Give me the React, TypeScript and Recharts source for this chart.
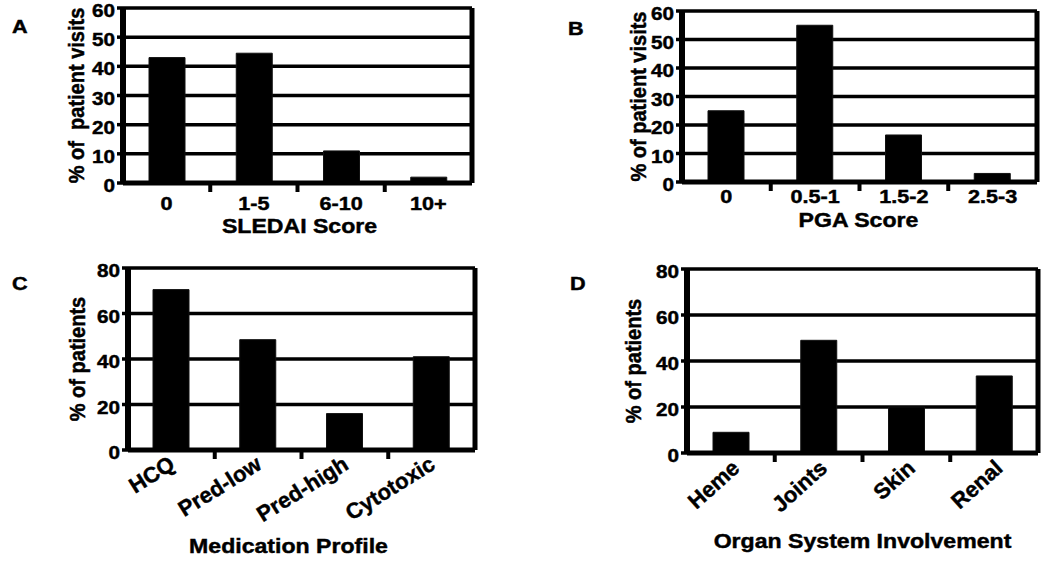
import { BarChart, Bar, XAxis, YAxis, CartesianGrid } from "recharts";

const FONT = '"Liberation Sans", Arial, Helvetica, sans-serif';

// Panel A - SLEDAI
const sledaiCategories = ["0", "1-5", "6-10", "10+"];
const sledaiValues = [43, 44.5, 11, 2];

// Panel B - PGA
const pgaCategories = ["0", "0.5-1", "1.5-2", "2.5-3"];
const pgaValues = [25, 55, 16.5, 3];

// Panel C - medications
const medicationCategories = ["HCQ", "Pred-low", "Pred-high", "Cytotoxic"];
const medicationValues = [70.5, 48.5, 16, 41];

// Panel D - organ systems
const organCategories = ["Heme", "Joints", "Skin", "Renal"];
const organValues = [9, 49, 20, 33.5];

const visitTicks = [0, 10, 20, 30, 40, 50, 60];
const patientTicks = [0, 20, 40, 60, 80];

// bold text, slightly widened like the scanned figure
const SText = ({ x, y, size, anchor, sx = 1, sy = 1, rotate = 0, dy, pre, children }: any) => (
  <text
    transform={`translate(${x} ${y}) rotate(${rotate}) scale(${sx} ${sy})`}
    x={0}
    y={0}
    dy={dy}
    textAnchor={anchor}
    fontSize={size}
    fontWeight={700}
    fontFamily={FONT}
    fill="#000"
    stroke="#000"
    strokeWidth={0.45}
    style={pre ? { whiteSpace: "pre" } : undefined}
  >
    {children}
  </text>
);

interface PanelProps {
  categories: string[];
  values: number[];
  ticks: number[];
  yLabel: string;
  xLabel: string;
  left: number;
  top: number;
  width: number;
  height: number;
  margin: { top: number; right: number; left: number; bottom: number };
  yAxisWidth: number;
  xAxisHeight: number;
  yLabelX: number;
  tickDx: number;
  tickDy: number;
  titleDx: number;
  titleDy: number;
  rotate: number;
  xTickFont: number;
}

const Panel = (p: PanelProps) => {
  const data = p.categories.map((name, i) => ({ name, value: p.values[i] }));
  const max = p.ticks[p.ticks.length - 1];
  const count = p.categories.length;

  const renderXTick = (props: any) => {
    const { x, y, payload, index } = props;
    const half = payload && payload.offset ? payload.offset : 44;
    return (
      <g>
        {index < count - 1 && (
          <line x1={x + half} x2={x + half} y1={y} y2={y + 9} stroke="#000" strokeWidth={4} />
        )}
        {p.rotate ? (
          <SText x={x + p.tickDx} y={y + p.tickDy} size={p.xTickFont} anchor="end" rotate={p.rotate}>
            {payload.value}
          </SText>
        ) : (
          <SText x={x} y={y + p.tickDy} size={p.xTickFont} anchor="middle" sx={1.2}>
            {payload.value}
          </SText>
        )}
      </g>
    );
  };

  const renderYTick = (props: any) => {
    const { x, y, payload } = props;
    return (
      <SText x={x} y={y} size={18} anchor="end" sx={1.15} dy="0.5em">
        {payload.value}
      </SText>
    );
  };

  const renderYLabel = (props: any) => {
    const vb = props.viewBox || {};
    const cx = (vb.x || 0) + p.yLabelX;
    const cy = (vb.y || 0) + (vb.height || 0) / 2;
    return (
      <SText x={cx} y={cy} size={20} anchor="middle" rotate={-90} sy={1.1} dy="0.35em" pre>
        {p.yLabel}
      </SText>
    );
  };

  const renderXLabel = (props: any) => {
    const vb = props.viewBox || {};
    const cx = (vb.x || 0) + (vb.width || 0) / 2 + p.titleDx;
    const cy = (vb.y || 0) + p.titleDy;
    return (
      <SText x={cx} y={cy} size={21} anchor="middle" sx={1.1}>
        {p.xLabel}
      </SText>
    );
  };

  return (
    <div style={{ position: "absolute", left: p.left, top: p.top, width: p.width, height: p.height }}>
      <BarChart width={p.width} height={p.height} data={data} margin={p.margin}>
        <CartesianGrid vertical={false} stroke="#000" strokeWidth={3.5} />
        <XAxis
          dataKey="name"
          height={p.xAxisHeight}
          axisLine={{ stroke: "#000", strokeWidth: 5 }}
          tickLine={false}
          tickSize={0}
          tickMargin={0}
          interval={0}
          tick={renderXTick}
          label={renderXLabel}
        />
        <YAxis
          type="number"
          domain={[0, max]}
          ticks={p.ticks}
          interval={0}
          width={p.yAxisWidth}
          axisLine={{ stroke: "#000", strokeWidth: 6 }}
          tickLine={{ stroke: "#000", strokeWidth: 3.5 }}
          tickSize={6}
          tickMargin={2}
          tick={renderYTick}
          label={renderYLabel}
        />
        <YAxis
          yAxisId="frame"
          orientation="right"
          type="number"
          domain={[0, max]}
          width={1}
          tick={false}
          tickLine={false}
          axisLine={{ stroke: "#000", strokeWidth: 5 }}
        />
        <Bar dataKey="value" fill="#000" stroke="#111" barSize={36} isAnimationActive={false} />
      </BarChart>
    </div>
  );
};

const letters = [
  { text: "A", x: 12, y: 33 },
  { text: "B", x: 568, y: 35 },
  { text: "C", x: 12, y: 290 },
  { text: "D", x: 570, y: 290 },
];

export default function App() {
  return (
    <div style={{ position: "absolute", left: 0, top: 0, width: 1050, height: 566, background: "#fff" }}>
      <Panel
        categories={sledaiCategories}
        values={sledaiValues}
        ticks={visitTicks}
        yLabel="% of  patient visits"
        xLabel="SLEDAI Score"
        left={0}
        top={0}
        width={520}
        height={250}
        margin={{ top: 8, right: 47, left: 0, bottom: 7 }}
        yAxisWidth={123}
        xAxisHeight={60}
        yLabelX={76}
        tickDx={0}
        tickDy={27}
        titleDx={2}
        titleDy={50}
        rotate={0}
        xTickFont={18}
      />
      <Panel
        categories={pgaCategories}
        values={pgaValues}
        ticks={visitTicks}
        yLabel="% of patient visits"
        xLabel="PGA Score"
        left={520}
        top={0}
        width={530}
        height={250}
        margin={{ top: 11, right: 12, left: 0, bottom: 7 }}
        yAxisWidth={162}
        xAxisHeight={61}
        yLabelX={118}
        tickDx={0}
        tickDy={21}
        titleDx={-1}
        titleDy={45}
        rotate={0}
        xTickFont={18}
      />
      <Panel
        categories={medicationCategories}
        values={medicationValues}
        ticks={patientTicks}
        yLabel="% of patients"
        xLabel="Medication Profile"
        left={0}
        top={250}
        width={520}
        height={316}
        margin={{ top: 18, right: 44, left: 0, bottom: 6 }}
        yAxisWidth={128}
        xAxisHeight={110}
        yLabelX={77}
        tickDx={5}
        tickDy={18}
        titleDx={-13}
        titleDy={103}
        rotate={-32}
        xTickFont={22}
      />
      <Panel
        categories={organCategories}
        values={organValues}
        ticks={patientTicks}
        yLabel="% of patients"
        xLabel="Organ System Involvement"
        left={520}
        top={250}
        width={530}
        height={316}
        margin={{ top: 19, right: 11, left: 0, bottom: 3 }}
        yAxisWidth={167}
        xAxisHeight={110}
        yLabelX={113}
        tickDx={10}
        tickDy={17}
        titleDx={0}
        titleDy={95}
        rotate={-42}
        xTickFont={22}
      />
      <svg width={1050} height={566} style={{ position: "absolute", left: 0, top: 0, pointerEvents: "none" }}>
        {letters.map((l) => (
          <SText key={l.text} x={l.x} y={l.y} size={18} anchor="start" sx={1.2}>
            {l.text}
          </SText>
        ))}
      </svg>
    </div>
  );
}
